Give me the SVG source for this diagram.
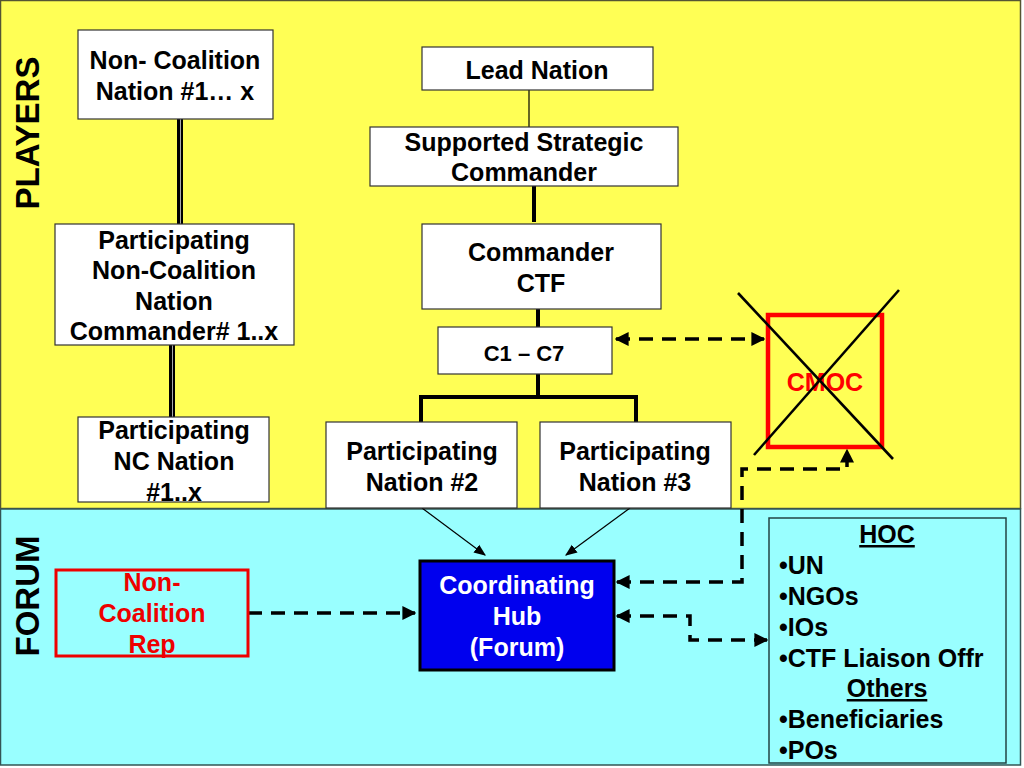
<svg xmlns="http://www.w3.org/2000/svg" width="1024" height="768" viewBox="0 0 1024 768">
<defs>
<style>
.t{font-family:"Liberation Sans",Arial,Helvetica,sans-serif;font-weight:bold;font-size:25px;text-anchor:middle;fill:#000}
.l{text-anchor:start}
.box{fill:#fff;stroke:#333;stroke-width:1.2}
.dash{fill:none;stroke:#000;stroke-width:3.5;stroke-dasharray:14,9}
.thick{stroke:#000;stroke-width:4;fill:none}
.thin{stroke:#000;stroke-width:1.2;fill:none}
</style>
<marker id="ah" viewBox="0 0 10 10" refX="9" refY="5" markerWidth="4" markerHeight="4" orient="auto-start-reverse" markerUnits="strokeWidth"><path d="M0,0 L10,5 L0,10 z" fill="#000"/></marker>
<marker id="ah2" viewBox="0 0 10 10" refX="9" refY="5" markerWidth="10" markerHeight="10" orient="auto" markerUnits="strokeWidth"><path d="M0,1 L10,5 L0,9 z" fill="#000"/></marker>
</defs>
<g id="bands">
<rect x="0.5" y="0.5" width="1020" height="508" fill="#ffff55" stroke="#555533" stroke-width="1.5"/>
<rect x="0.5" y="509" width="1020" height="256" fill="#99ffff" stroke="#335555" stroke-width="1.5"/>
<text class="t" transform="translate(39,133) rotate(-90)" style="font-size:33px">PLAYERS</text>
<text class="t" transform="translate(39,596) rotate(-90)" style="font-size:33px">FORUM</text>
</g>
<g id="connectors">
<line x1="180" y1="119" x2="180" y2="224" stroke="#000" stroke-width="6"/>
<line x1="180.5" y1="119" x2="180.5" y2="224" stroke="#aaa" stroke-width="1"/>
<line x1="172" y1="345" x2="172" y2="418" stroke="#000" stroke-width="6"/>
<line x1="172.5" y1="345" x2="172.5" y2="418" stroke="#aaa" stroke-width="1"/>
<line x1="529" y1="90" x2="529" y2="127" class="thin"/>
<line x1="534" y1="186" x2="534" y2="222" class="thick"/>
<line x1="538" y1="309" x2="538" y2="327" class="thick"/>
<path d="M538,374 V397 M421,422 V397 H636 V422" class="thick"/>
<line x1="422" y1="508" x2="485" y2="555" class="thin" marker-end="url(#ah2)"/>
<line x1="630" y1="508" x2="566" y2="555" class="thin" marker-end="url(#ah2)"/>
<path d="M616,339 H764" class="dash" marker-start="url(#ah)" marker-end="url(#ah)"/>
<path d="M617,582 H742 V469 H847 V450" class="dash" marker-start="url(#ah)" marker-end="url(#ah)"/>
<path d="M617,616 H690 V640 H767" class="dash" marker-start="url(#ah)" marker-end="url(#ah)"/>
<path d="M248,613 H415" class="dash" marker-end="url(#ah)"/>
</g>
<g id="n-noncoalition">
<rect class="box" x="78" y="30" width="195" height="89"/>
<text class="t" x="175" y="69">Non- Coalition</text>
<text class="t" x="175" y="100">Nation #1… x</text>
</g>
<g id="n-pncnc">
<rect class="box" x="55" y="224" width="239" height="121"/>
<text class="t" x="174" y="249">Participating</text>
<text class="t" x="174" y="279">Non-Coalition</text>
<text class="t" x="174" y="310">Nation</text>
<text class="t" x="174" y="340">Commander# 1..x</text>
</g>
<g id="n-pncn">
<rect class="box" x="78" y="417" width="191" height="85"/>
<text class="t" x="174" y="439">Participating</text>
<text class="t" x="174" y="470">NC Nation</text>
<text class="t" x="174" y="501">#1..x</text>
</g>
<g id="n-lead">
<rect class="box" x="422" y="47" width="231" height="43"/>
<text class="t" x="537" y="79">Lead Nation</text>
</g>
<g id="n-ssc">
<rect class="box" x="370" y="127" width="308" height="59"/>
<text class="t" x="524" y="151">Supported Strategic</text>
<text class="t" x="524" y="181">Commander</text>
</g>
<g id="n-cctf">
<rect class="box" x="422" y="224" width="239" height="85"/>
<text class="t" x="541" y="261">Commander</text>
<text class="t" x="541" y="292">CTF</text>
</g>
<g id="n-c1c7">
<rect class="box" x="438" y="327" width="174" height="47"/>
<text class="t" x="524" y="361" style="font-size:22px">C1 – C7</text>
</g>
<g id="n-pn2">
<rect class="box" x="326" y="422" width="191" height="86"/>
<text class="t" x="422" y="460">Participating</text>
<text class="t" x="422" y="491">Nation #2</text>
</g>
<g id="n-pn3">
<rect class="box" x="540" y="422" width="191" height="86"/>
<text class="t" x="635" y="460">Participating</text>
<text class="t" x="635" y="491">Nation #3</text>
</g>
<g id="n-cmoc">
<rect x="768" y="315" width="114" height="132" fill="none" stroke="#ff0000" stroke-width="4.5"/>
<text class="t" x="825" y="391" style="fill:#ff0000">CMOC</text>
<line x1="738" y1="293" x2="893" y2="459" stroke="#000" stroke-width="2.6"/>
<line x1="754" y1="455" x2="899" y2="290" stroke="#000" stroke-width="2.6"/>
</g>
<g id="n-hub">
<rect x="420" y="561" width="194" height="109" fill="#0000ee" stroke="#000" stroke-width="3"/>
<text class="t" x="517" y="594" style="fill:#fff">Coordinating</text>
<text class="t" x="517" y="625" style="fill:#fff">Hub</text>
<text class="t" x="517" y="656" style="fill:#fff">(Forum)</text>
</g>
<g id="n-ncrep">
<rect x="56" y="570" width="192" height="86" fill="none" stroke="#ee0000" stroke-width="3"/>
<text class="t" x="152" y="591" style="fill:#ee0000">Non-</text>
<text class="t" x="152" y="622" style="fill:#ee0000">Coalition</text>
<text class="t" x="152" y="653" style="fill:#ee0000">Rep</text>
</g>
<g id="n-hoc">
<rect x="769" y="518" width="237" height="245" fill="#99ffff" stroke="#224444" stroke-width="1.5"/>
<text class="t" x="887" y="543" text-decoration="underline">HOC</text>
<text class="t l" x="779" y="574">•UN</text>
<text class="t l" x="779" y="605">•NGOs</text>
<text class="t l" x="779" y="636">•IOs</text>
<text class="t l" x="779" y="667">•CTF Liaison Offr</text>
<text class="t" x="887" y="697" text-decoration="underline">Others</text>
<text class="t l" x="779" y="728">•Beneficiaries</text>
<text class="t l" x="779" y="759">•POs</text>
</g>
</svg>
